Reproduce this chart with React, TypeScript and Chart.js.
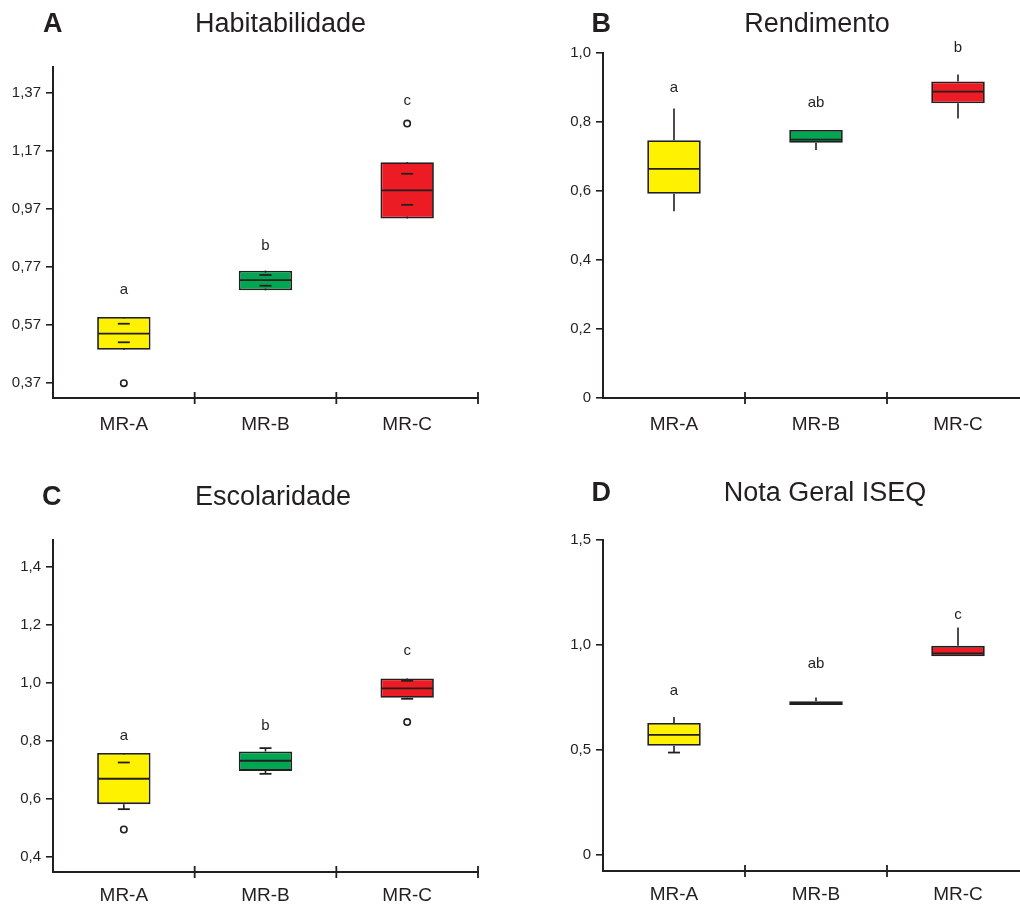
import React, { useEffect, useRef } from 'react';
import { Chart, registerables } from 'chart.js';

Chart.register(...registerables);

const FONT = '"Liberation Sans", Arial, Helvetica, sans-serif';
const INK = '#231f20';

// ---------- shared ----------
const categories = ['MR-A', 'MR-B', 'MR-C'];
const boxColors = ['#fff200', '#00a651', '#ed1c24'];

// ---------- A: Habitabilidade ----------
const habQ1 = [0.485, 0.69, 0.938];
const habQ3 = [0.598, 0.758, 1.132];
const habMedian = [0.541, 0.725, 1.035];
const habWhiskerLow = [0.511, 0.706, 0.985];
const habWhiskerHigh = [0.575, 0.743, 1.092];
const habCapLow = [true, true, true];
const habCapHigh = [true, true, true];
const habOutliers = [
  { x: 'MR-A', y: 0.37 },
  { x: 'MR-C', y: 1.265 },
];
const habLetters = ['a', 'b', 'c'];
const habLetterY = [0.691, 0.843, 1.345];
const habTicks = [0.37, 0.57, 0.77, 0.97, 1.17, 1.37];
const habTickLabels = ['0,37', '0,57', '0,77', '0,97', '1,17', '1,37'];
const habRange = [0.319, 1.46];

// ---------- B: Rendimento ----------
const renQ1 = [0.592, 0.74, 0.854];
const renQ3 = [0.747, 0.777, 0.9175];
const renMedian = [0.664, 0.749, 0.888];
const renWhiskerLow = [0.541, 0.719, 0.81];
const renWhiskerHigh = [0.839, 0.777, 0.938];
const renCapLow = [false, false, false];
const renCapHigh = [false, false, false];
const renOutliers: { x: string; y: number }[] = [];
const renLetters = ['a', 'ab', 'b'];
const renLetterY = [0.898, 0.855, 1.014];
const renTicks = [0, 0.2, 0.4, 0.6, 0.8, 1.0];
const renTickLabels = ['0', '0,2', '0,4', '0,6', '0,8', '1,0'];
const renRange = [0, 1.0];

// ---------- C: Escolaridade ----------
const escQ1 = [0.5826, 0.697, 0.9487];
const escQ3 = [0.759, 0.764, 1.0156];
const escMedian = [0.67, 0.732, 0.981];
const escWhiskerLow = [0.5653, 0.687, 0.9453];
const escWhiskerHigh = [0.726, 0.7755, 1.0073];
const escCapLow = [true, true, true];
const escCapHigh = [true, true, true];
const escOutliers = [
  { x: 'MR-A', y: 0.4954 },
  { x: 'MR-C', y: 0.865 },
];
const escLetters = ['a', 'b', 'c'];
const escLetterY = [0.819, 0.851, 1.111];
const escTicks = [0.4, 0.6, 0.8, 1.0, 1.2, 1.4];
const escTickLabels = ['0,4', '0,6', '0,8', '1,0', '1,2', '1,4'];
const escRange = [0.349, 1.492];

// ---------- D: Nota Geral ISEQ ----------
const isqQ1 = [0.518, 0.7125, 0.946];
const isqQ3 = [0.6275, 0.731, 0.995];
const isqMedian = [0.57, 0.72, 0.959];
const isqWhiskerLow = [0.486, 0.7125, 0.946];
const isqWhiskerHigh = [0.656, 0.749, 1.083];
const isqCapLow = [true, false, false];
const isqCapHigh = [false, false, false];
const isqOutliers: { x: string; y: number }[] = [];
const isqLetters = ['a', 'ab', 'c'];
const isqLetterY = [0.779, 0.908, 1.142];
const isqTicks = [0, 0.5, 1.0, 1.5];
const isqTickLabels = ['0', '0,5', '1,0', '1,5'];
const isqRange = [-0.079, 1.5];

type Panel = {
  letter: string;
  title: string;
  q1: number[];
  q3: number[];
  median: number[];
  wLow: number[];
  wHigh: number[];
  capLow: boolean[];
  capHigh: boolean[];
  outliers: { x: string; y: number }[];
  letters: string[];
  letterY: number[];
  ticks: number[];
  tickLabels: string[];
  range: number[];
  layout: {
    left: number;
    top: number;
    width: number;
    height: number;
    padTop: number;
    padRight: number;
    yWidth: number;
    xHeight: number;
    xPad: number;
    titleX: number;
    titleBase: number;
    letterX: number;
    letterBase: number;
  };
};

const panels: Panel[] = [
  {
    letter: 'A',
    title: 'Habitabilidade',
    q1: habQ1, q3: habQ3, median: habMedian, wLow: habWhiskerLow, wHigh: habWhiskerHigh,
    capLow: habCapLow, capHigh: habCapHigh, outliers: habOutliers,
    letters: habLetters, letterY: habLetterY, ticks: habTicks, tickLabels: habTickLabels, range: habRange,
    layout: { left: 0, top: 0, width: 510, height: 450, padTop: 67, padRight: 32, yWidth: 53, xHeight: 52, xPad: 15, titleX: 280.5, titleBase: 33.3, letterX: 43, letterBase: 32.5 },
  },
  {
    letter: 'B',
    title: 'Rendimento',
    q1: renQ1, q3: renQ3, median: renMedian, wLow: renWhiskerLow, wHigh: renWhiskerHigh,
    capLow: renCapLow, capHigh: renCapHigh, outliers: renOutliers,
    letters: renLetters, letterY: renLetterY, ticks: renTicks, tickLabels: renTickLabels, range: renRange,
    layout: { left: 510, top: 0, width: 520, height: 450, padTop: 53, padRight: 1, yWidth: 93, xHeight: 52, xPad: 15, titleX: 817, titleBase: 33.3, letterX: 591.5, letterBase: 32.5 },
  },
  {
    letter: 'C',
    title: 'Escolaridade',
    q1: escQ1, q3: escQ3, median: escMedian, wLow: escWhiskerLow, wHigh: escWhiskerHigh,
    capLow: escCapLow, capHigh: escCapHigh, outliers: escOutliers,
    letters: escLetters, letterY: escLetterY, ticks: escTicks, tickLabels: escTickLabels, range: escRange,
    layout: { left: 0, top: 460, width: 510, height: 447, padTop: 80, padRight: 32, yWidth: 53, xHeight: 35, xPad: 12, titleX: 273, titleBase: 505.7, letterX: 42, letterBase: 505.7 },
  },
  {
    letter: 'D',
    title: 'Nota Geral ISEQ',
    q1: isqQ1, q3: isqQ3, median: isqMedian, wLow: isqWhiskerLow, wHigh: isqWhiskerHigh,
    capLow: isqCapLow, capHigh: isqCapHigh, outliers: isqOutliers,
    letters: isqLetters, letterY: isqLetterY, ticks: isqTicks, tickLabels: isqTickLabels, range: isqRange,
    layout: { left: 510, top: 460, width: 520, height: 447, padTop: 80, padRight: 1, yWidth: 93, xHeight: 36, xPad: 12, titleX: 825, titleBase: 501.7, letterX: 591.5, letterBase: 501.7 },
  },
];

function makeBoxPlugin(p: Panel) {
  return {
    id: 'boxExtras',
    beforeDatasetsDraw(chart: any) {
      const { ctx } = chart;
      const x = chart.scales.x;
      const y = chart.scales.y;
      ctx.save();
      ctx.strokeStyle = INK;
      ctx.lineWidth = 1.6;
      p.q1.forEach((q1, i) => {
        const cx = x.getPixelForValue(i);
        if (p.wHigh[i] !== p.q3[i]) {
          ctx.beginPath();
          ctx.moveTo(cx, y.getPixelForValue(p.q3[i]));
          ctx.lineTo(cx, y.getPixelForValue(p.wHigh[i]));
          ctx.stroke();
        }
        if (p.wLow[i] !== q1) {
          ctx.beginPath();
          ctx.moveTo(cx, y.getPixelForValue(q1));
          ctx.lineTo(cx, y.getPixelForValue(p.wLow[i]));
          ctx.stroke();
        }
      });
      ctx.restore();
    },
    afterDatasetsDraw(chart: any) {
      const { ctx, chartArea } = chart;
      const x = chart.scales.x;
      const y = chart.scales.y;
      const meta = chart.getDatasetMeta(0);
      ctx.save();
      ctx.strokeStyle = INK;
      ctx.lineWidth = 1.8;
      p.median.forEach((m, i) => {
        const bar = meta.data[i];
        const cx = x.getPixelForValue(i);
        const half = bar.width / 2;
        const my = y.getPixelForValue(m);
        ctx.beginPath();
        ctx.moveTo(cx - half + 1, my);
        ctx.lineTo(cx + half - 1, my);
        ctx.stroke();
        const capHalf = 6;
        if (p.capHigh[i]) {
          const wy = y.getPixelForValue(p.wHigh[i]);
          ctx.beginPath();
          ctx.moveTo(cx - capHalf, wy);
          ctx.lineTo(cx + capHalf, wy);
          ctx.stroke();
        }
        if (p.capLow[i]) {
          const wy = y.getPixelForValue(p.wLow[i]);
          ctx.beginPath();
          ctx.moveTo(cx - capHalf, wy);
          ctx.lineTo(cx + capHalf, wy);
          ctx.stroke();
        }
      });
      // category separators crossing the x axis
      const y0 = chartArea.bottom;
      for (let k = 0; k < categories.length; k++) {
        const bx = x.getPixelForValue(k + 0.5);
        ctx.beginPath();
        ctx.moveTo(bx, y0 - 6);
        ctx.lineTo(bx, y0 + 6);
        ctx.stroke();
      }
      // significance letters
      ctx.fillStyle = INK;
      ctx.font = `15px ${FONT}`;
      ctx.textAlign = 'center';
      ctx.textBaseline = 'middle';
      p.letters.forEach((t, i) => {
        ctx.fillText(t, x.getPixelForValue(i), y.getPixelForValue(p.letterY[i]));
      });
      ctx.restore();
    },
  };
}

function PanelChart({ p }: { p: Panel }) {
  const ref = useRef<HTMLCanvasElement | null>(null);
  useEffect(() => {
    if (!ref.current) return;
    const L = p.layout;
    const chart = new Chart(ref.current, {
      type: 'bar',
      data: {
        labels: categories,
        datasets: [
          {
            type: 'bar',
            data: p.q1.map((v, i) => [v, p.q3[i]]),
            backgroundColor: boxColors,
            borderColor: INK,
            borderWidth: 1.8,
            borderSkipped: false,
            barPercentage: 0.377,
            categoryPercentage: 1,
            order: 1,
          } as any,
          {
            type: 'line',
            data: p.outliers,
            showLine: false,
            pointRadius: 3.2,
            pointBorderWidth: 1.6,
            pointBorderColor: INK,
            pointBackgroundColor: '#ffffff',
            order: 0,
          } as any,
        ],
      },
      options: {
        responsive: false,
        animation: false,
        events: [],
        layout: { padding: { left: 0, right: L.padRight, top: L.padTop, bottom: 0 } },
        plugins: {
          legend: { display: false },
          tooltip: { enabled: false },
          title: { display: false },
        },
        scales: {
          x: {
            type: 'category',
            offset: true,
            grid: { display: false, drawTicks: false },
            border: { display: true, color: INK, width: 2 },
            ticks: {
              color: INK,
              font: { size: 19, family: FONT },
              padding: L.xPad,
              maxRotation: 0,
              autoSkip: false,
            },
            afterFit: (s: any) => {
              s.height = L.xHeight;
            },
          },
          y: {
            type: 'linear',
            min: p.range[0],
            max: p.range[1],
            afterBuildTicks: (s: any) => {
              s.ticks = p.ticks.map((v) => ({ value: v }));
            },
            grid: {
              display: true,
              drawOnChartArea: false,
              drawTicks: true,
              tickLength: 7,
              color: INK,
              lineWidth: 1.6,
            },
            border: { display: true, color: INK, width: 2 },
            ticks: {
              color: INK,
              font: { size: 15, family: FONT },
              padding: 5,
              callback: (_v: any, i: number) => p.tickLabels[i],
            },
            afterFit: (s: any) => {
              s.width = L.yWidth;
            },
          },
        },
      } as any,
      plugins: [makeBoxPlugin(p)],
    });
    return () => chart.destroy();
  }, [p]);

  const L = p.layout;
  return (
    <>
      <canvas
        ref={ref}
        width={L.width}
        height={L.height}
        style={{ position: 'absolute', left: L.left, top: L.top, width: L.width, height: L.height }}
      />
      <div
        style={{
          position: 'absolute',
          left: L.letterX,
          top: L.letterBase - 22.9,
          fontFamily: FONT,
          fontWeight: 'bold',
          fontSize: 27,
          lineHeight: '27px',
          color: INK,
          whiteSpace: 'nowrap',
        }}
      >
        {p.letter}
      </div>
      <div
        style={{
          position: 'absolute',
          left: L.titleX - 200,
          width: 400,
          top: L.titleBase - 22.9,
          textAlign: 'center',
          fontFamily: FONT,
          fontSize: 27,
          lineHeight: '27px',
          color: INK,
          whiteSpace: 'nowrap',
        }}
      >
        {p.title}
      </div>
    </>
  );
}

export default function App() {
  return (
    <div
      style={{
        position: 'absolute',
        left: 0,
        top: 0,
        width: 1020,
        height: 907,
        overflow: 'hidden',
        background: '#ffffff',
      }}
    >
      {panels.map((p) => (
        <PanelChart key={p.letter} p={p} />
      ))}
    </div>
  );
}
